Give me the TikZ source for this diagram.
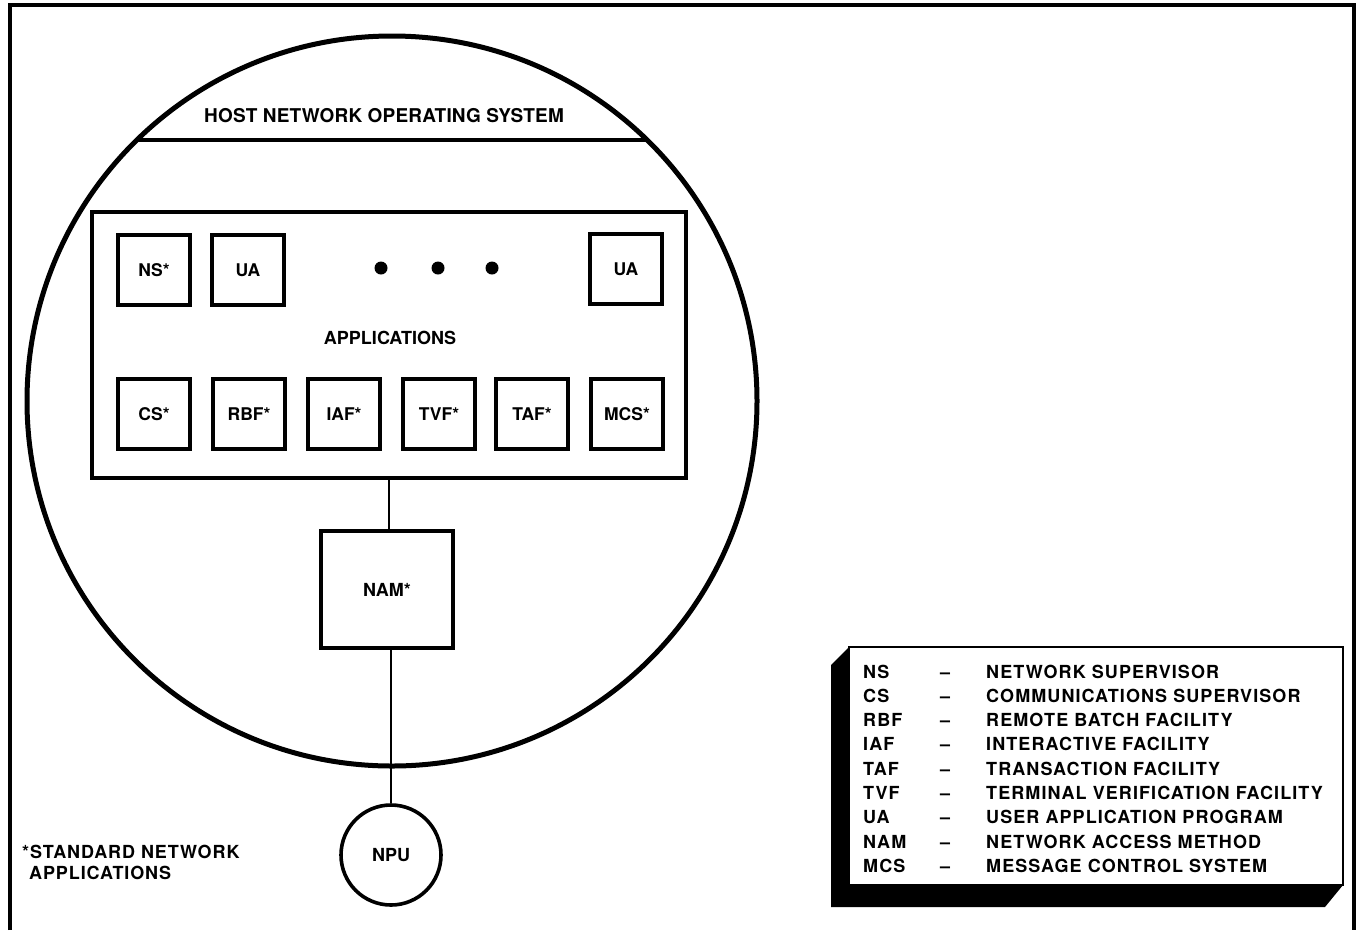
\documentclass[tikz,border=0pt]{standalone}
\usepackage{fontspec}
\setmainfont{TeX Gyre Heros}
\begin{document}
\begin{tikzpicture}[x=1pt,y=-1pt,
  lbl/.style={font=\bfseries\fontsize{18}{20}\selectfont, inner sep=0pt},
  appbox/.style={draw, line width=3.2pt, minimum width=72pt, minimum height=70pt,
    inner sep=0pt, font=\bfseries\fontsize{17.5}{19}\selectfont},
  legtext/.style={font=\bfseries\fontsize{18}{20}\selectfont\addfontfeature{LetterSpace=6},
    inner sep=0pt, anchor=base west},
  link/.style={line width=2.4pt}]
\useasboundingbox (0,0) rectangle (1364,930);

% open frame (left, top, right)
\draw[line width=3.6pt] (10,930) -- (10,5) -- (1354,5) -- (1354,930);

% host circle with the operating system cap
\node[draw, circle, line width=5pt, minimum size=730pt, inner sep=0pt] (host) at (392,401) {};
\begin{scope}
  \clip (392,401) circle (365pt);
  \draw[line width=3.6pt] (0,140) -- (800,140);
\end{scope}
\node[lbl, font=\bfseries\fontsize{19}{21}\selectfont\addfontfeature{LetterSpace=1}] (hnos) at (384,116) {HOST NETWORK OPERATING SYSTEM};

% applications block
\node[draw, line width=3.2pt, minimum width=594pt, minimum height=266pt, inner sep=0pt] (apps) at (389,345) {};
\node[lbl] (appl) at (390,338) {APPLICATIONS};

\node[appbox] (ns)  at (154,270) {NS*};
\node[appbox] (ua1) at (248,270) {UA};
\node[appbox] (ua2) at (626,269) {UA};
\foreach \x/\n in {381/d1,438/d2,492/d3}
  \fill (\x,268) circle (6.5pt) coordinate (\n);

\node[appbox] (cs)  at (154,414) {CS*};
\node[appbox] (rbf) at (249,414) {RBF*};
\node[appbox] (iaf) at (344,414) {IAF*};
\node[appbox] (tvf) at (439,414) {TVF*};
\node[appbox] (taf) at (532,414) {TAF*};
\node[appbox] (mcs) at (627,414) {MCS*};

% network access method and processor
\node[draw, line width=3.2pt, minimum width=132pt, minimum height=117pt, inner sep=0pt,
      font=\bfseries\fontsize{18}{20}\selectfont] (nam) at (387,589.5) {NAM*};
\node[draw, circle, line width=3.6pt, minimum size=100pt, inner sep=0pt,
      font=\bfseries\fontsize{18}{20}\selectfont] (npu) at (391,855) {NPU};
\draw[link] (apps.south) -- (apps.south |- nam.north);
\draw[link] (npu.north |- nam.south) -- (npu.north);

% footnote
\node[lbl, anchor=base west, align=left,
      font=\bfseries\fontsize{18}{21}\selectfont\addfontfeature{LetterSpace=5}] (note) at (22,879)
  {*STANDARD NETWORK\\\hphantom{*}APPLICATIONS};

% legend with offset shadow
\fill (849,647) -- (831,665) -- (831,907) -- (1325,907) -- (1343,885) -- (1343,647) -- cycle;
\node[draw, fill=white, line width=2.4pt, minimum width=494pt, minimum height=238pt,
      inner sep=0pt] (legend) at (1096,766) {};
\foreach \i/\ab/\desc in {0/NS/NETWORK SUPERVISOR,
                          1/CS/COMMUNICATIONS SUPERVISOR,
                          2/RBF/REMOTE BATCH FACILITY,
                          3/IAF/INTERACTIVE FACILITY,
                          4/TAF/TRANSACTION FACILITY,
                          5/TVF/TERMINAL VERIFICATION FACILITY,
                          6/UA/USER APPLICATION PROGRAM,
                          7/NAM/NETWORK ACCESS METHOD,
                          8/MCS/MESSAGE CONTROL SYSTEM} {
  \node[legtext] (ab\i) at (863,{678+24.3*\i}) {\ab};
  \node[legtext] (ds\i) at (940,{678+24.3*\i}) {--};
  \node[legtext] (de\i) at (986,{678+24.3*\i}) {\desc};
}
\end{tikzpicture}
\end{document}
